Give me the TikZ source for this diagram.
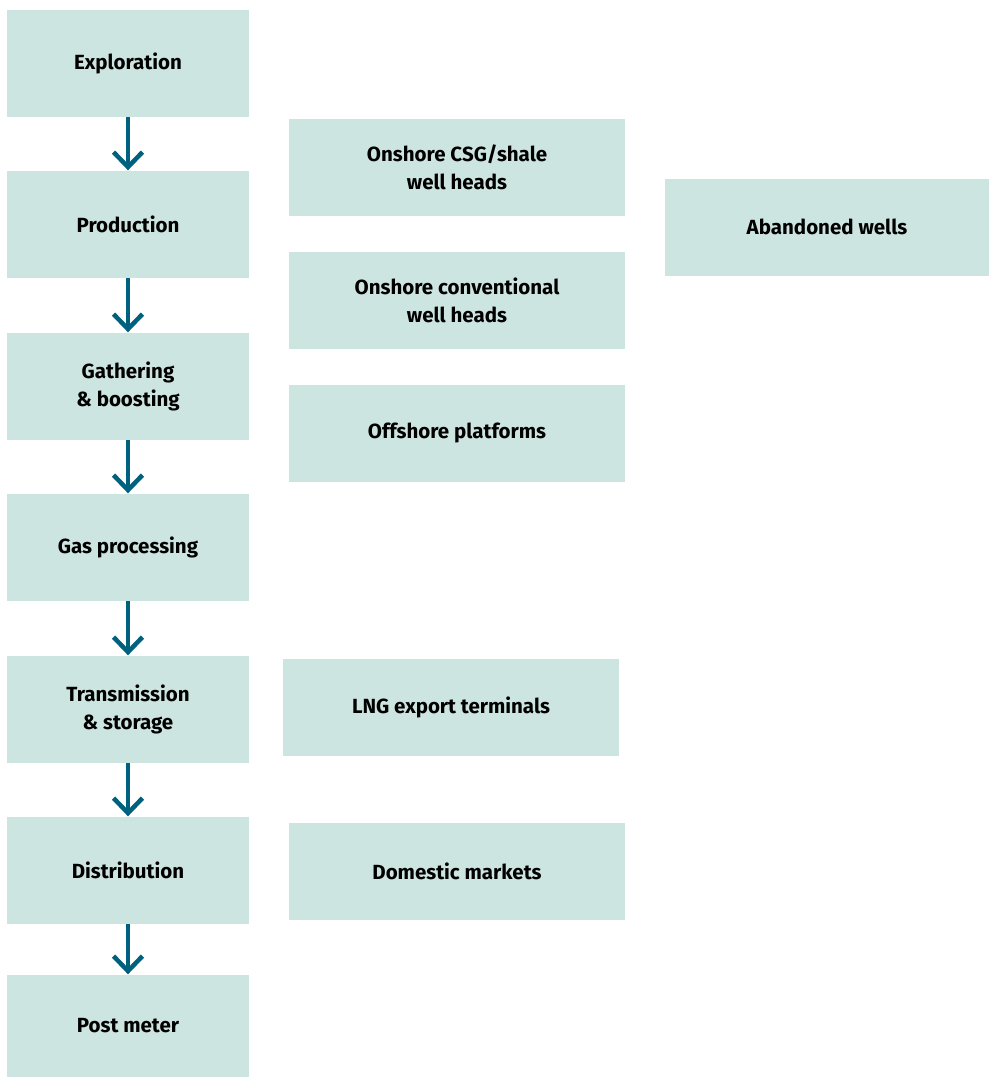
\documentclass[tikz,border=0pt]{standalone}
\usepackage{fontspec}
\setmainfont{Fira Sans}
\usepackage{tikz}
\usetikzlibrary{arrows.meta,positioning}
\definecolor{boxfill}{HTML}{CDE5E1}
\definecolor{arrowblue}{HTML}{00617F}

\begin{document}
\begin{tikzpicture}[x=1pt,y=-1pt,>={Straight Barb[length=15pt,width=29pt]},
  stage/.style={fill=boxfill,inner sep=0pt,minimum width=242pt,minimum height=107pt,
    align=center,font=\fontsize{20.5}{28}\selectfont\bfseries},
  source/.style={stage,minimum width=336pt,minimum height=97pt},
  flow/.style={->,draw=arrowblue,line width=4.5pt,shorten >=0.5pt}]
\useasboundingbox (0,0) rectangle (990,1077);
% value chain
\node[stage] (expl) at (128,63.5) {Exploration};
\node[stage] (prod) at (128,224.5) {Production};
\node[stage] (gath) at (128,386.5) {Gathering\\\& boosting};
\node[stage] (proc) at (128,547.5) {Gas processing};
\node[stage] (trans) at (128,709.5) {Transmission\\\& storage};
\node[stage] (dist) at (128,870.5) {Distribution};
\node[stage,minimum height=102pt] (meter) at (128,1026) {Post meter};
\foreach \a/\b in {expl/prod,prod/gath,gath/proc,proc/trans,trans/dist,dist/meter}
  \draw[flow] (\a.south) -- (\b.north);
% emission sources
\node[source] (csg) at (457,167) {Onshore CSG/shale\\well heads};
\node[source] (conv) at (457,300.5) {Onshore conventional\\well heads};
\node[source] (off) at (457,433) {Offshore platforms};
\node[source] (lng) at (451,707) {LNG export terminals};
\node[source] (dom) at (457,871) {Domestic markets};
\node[source,minimum width=324pt] (aband) at (827,227) {Abandoned wells};
\end{tikzpicture}
\end{document}
